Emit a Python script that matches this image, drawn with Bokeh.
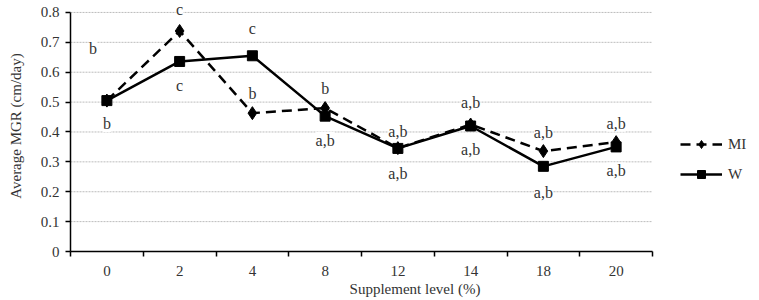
from bokeh.plotting import figure
from bokeh.embed import file_html
from bokeh.resources import INLINE
from bokeh.models import (FixedTicker, ColumnDataSource, LabelSet, Legend,
                          LegendItem, Range1d)

# ---- data ----
categories = ["0", "2", "4", "8", "12", "14", "18", "20"]
mi_values = [0.505, 0.738, 0.463, 0.480, 0.346, 0.425, 0.336, 0.366]
w_values = [0.505, 0.636, 0.655, 0.453, 0.345, 0.420, 0.285, 0.350]
mi_letters = ["b", "c", "b", "b", "a,b", "a,b", "a,b", "a,b"]
w_letters = ["b", "c", "c", "a,b", "a,b", "a,b", "a,b", "a,b"]
y_ticks = [0, 0.1, 0.2, 0.3, 0.4, 0.5, 0.6, 0.7, 0.8]
y_tick_labels = ["0", "0.1", "0.2", "0.3", "0.4", "0.5", "0.6", "0.7", "0.8"]

# ---- style: label offsets in screen pixels ----
mi_dx = [-14, 0, 0, 0, 0, 0, 0, 0]
mi_dy = [52, 21, 20, 20, 17, 22, 19, 19]
w_dy = [-23, -24, 27, -24, -25, -23, -26, -24]

FONT = "Liberation Serif"
n = len(categories)
xs = list(range(n))
x_lo, x_hi = -0.5, n - 0.5
# frame runs to the right edge so the legend can sit inside it
CAT_PX = 582 / n
x_end = x_lo + 689 / CAT_PX

p = figure(width=759, height=300, x_range=Range1d(x_lo, x_end),
           y_range=Range1d(0, 0.84), output_backend="svg", toolbar_location=None,
           min_border_left=70, min_border_right=0, min_border_top=0,
           min_border_bottom=49)
p.outline_line_color = None
p.background_fill_color = "white"
p.border_fill_color = "white"

# axes
p.xaxis.ticker = FixedTicker(ticks=xs, minor_ticks=[i - 0.5 for i in range(n + 1)])
p.xaxis.major_label_overrides = {i: c for i, c in enumerate(categories)}
p.xaxis.bounds = (x_lo, x_hi)
p.xaxis.major_tick_out = 0
p.xaxis.major_tick_in = 0
p.xaxis.minor_tick_out = 5
p.xaxis.minor_tick_in = 0
p.xaxis.minor_tick_line_color = "black"
p.xaxis.axis_label = "Supplement level (%)"

p.yaxis.ticker = FixedTicker(ticks=y_ticks)
p.yaxis.major_label_overrides = {t: l for t, l in zip(y_ticks, y_tick_labels)}
p.yaxis.bounds = (0, 0.8)
p.yaxis.major_tick_out = 5
p.yaxis.major_tick_in = 0
p.yaxis.minor_tick_line_color = None
p.yaxis.axis_label = "Average MGR (cm/day)"

for ax in (p.xaxis, p.yaxis):
    ax.axis_line_color = "black"
    ax.axis_line_width = 1.5
    ax.major_tick_line_color = "black"
    ax.major_tick_line_width = 1.5
    ax.minor_tick_line_width = 1.5
    ax.major_label_text_font = FONT
    ax.major_label_text_font_size = "15px"
    ax.major_label_text_color = "#333333"
    ax.axis_label_text_font = FONT
    ax.axis_label_text_font_size = "15px"
    ax.axis_label_text_font_style = "normal"
    ax.axis_label_text_color = "#333333"

p.xaxis.major_label_standoff = 9
p.xaxis.axis_label_standoff = 2
p.yaxis.major_label_standoff = 6
p.yaxis.axis_label_standoff = 14

p.xgrid.visible = False
p.ygrid.visible = False
grid_y = y_ticks[1:]
p.segment(x0=[x_lo] * len(grid_y), x1=[x_hi] * len(grid_y), y0=grid_y, y1=grid_y,
          line_color="#bcbcbc", line_dash="2 1", line_width=1, level="underlay")

src = ColumnDataSource(dict(x=xs, mi=mi_values, w=w_values, mi_lab=mi_letters,
                            w_lab=w_letters, mi_dx=mi_dx, mi_dy=mi_dy, w_dy=w_dy))

mi_line = p.line("x", "mi", source=src, line_color="black", line_width=2.5, line_dash="10 6")
mi_mark = p.scatter("x", "mi", source=src, marker="diamond", size=13, color="black")
w_line = p.line("x", "w", source=src, line_color="black", line_width=2.5)
w_mark = p.scatter("x", "w", source=src, marker="square", size=10, color="black")

for col, ycol, dy, dx in (("mi_lab", "mi", "mi_dy", "mi_dx"), ("w_lab", "w", "w_dy", None)):
    kw = dict(x="x", y=ycol, text=col, y_offset=dy, source=src,
              text_font=FONT, text_font_size="16px", text_color="#333333",
              text_align="center", text_baseline="middle",
              background_fill_color="white")
    if dx:
        kw["x_offset"] = dx
    p.add_layout(LabelSet(**kw))

legend = Legend(items=[LegendItem(label="MI", renderers=[mi_line, mi_mark]),
                       LegendItem(label="W", renderers=[w_line, w_mark])],
                location=(610, 67), glyph_width=42, glyph_height=20, spacing=10,
                label_standoff=6, padding=0, margin=0,
                border_line_color=None, background_fill_alpha=0,
                label_text_font=FONT, label_text_font_size="15px",
                label_text_color="#333333")
p.add_layout(legend)

open("out.html", "w").write(file_html(p, INLINE))
